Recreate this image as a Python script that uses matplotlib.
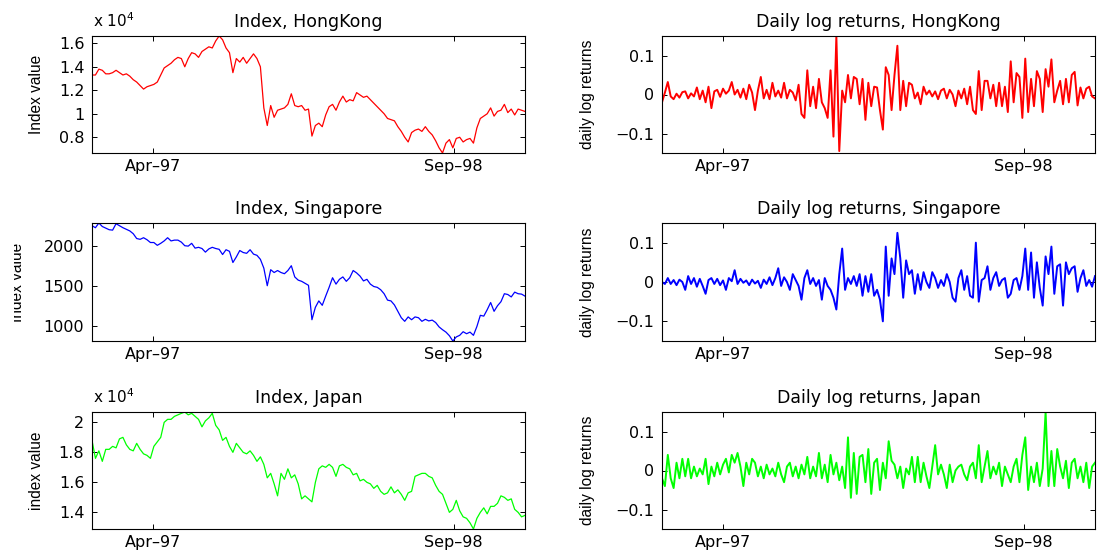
import pandas as pd
import matplotlib
matplotlib.use("Agg")
import matplotlib.pyplot as plt
from matplotlib import font_manager
from matplotlib.patches import Rectangle

# index levels (HongKong and Japan in units of 10^4)
hk_index = [1.33, 1.33, 1.38, 1.37, 1.34, 1.34, 1.35, 1.37, 1.35, 1.33,
            1.34, 1.32, 1.29, 1.27, 1.24, 1.21, 1.23, 1.24, 1.25, 1.27,
            1.33, 1.39, 1.41, 1.43, 1.46, 1.48, 1.47, 1.40, 1.47, 1.52,
            1.51, 1.48, 1.53, 1.55, 1.57, 1.56, 1.62, 1.662, 1.63, 1.56,
            1.52, 1.35, 1.47, 1.44, 1.48, 1.43, 1.47, 1.51, 1.47, 1.40,
            1.05, 0.90, 1.07, 0.97, 1.03, 1.04, 1.05, 1.08, 1.17, 1.07,
            1.06, 1.07, 1.03, 1.04, 0.81, 0.90, 0.92, 0.89, 0.99, 1.06,
            1.08, 1.03, 1.10, 1.15, 1.10, 1.12, 1.11, 1.18, 1.16, 1.14,
            1.15, 1.12, 1.09, 1.06, 1.03, 1.00, 0.96, 0.95, 0.94, 0.89,
            0.85, 0.80, 0.76, 0.84, 0.86, 0.87, 0.85, 0.89, 0.85, 0.82,
            0.77, 0.71, 0.666, 0.75, 0.78, 0.71, 0.79, 0.80, 0.76, 0.78,
            0.79, 0.75, 0.88, 0.96, 0.98, 1.00, 1.05, 0.98, 1.02, 1.03,
            1.08, 1.01, 1.04, 0.99, 1.04, 1.03, 1.02]

sg_index = [2250, 2225, 2284, 2240, 2220, 2200, 2195, 2275, 2250, 2225,
            2205, 2185, 2150, 2090, 2080, 2100, 2075, 2040, 2040, 2005,
            2030, 2060, 2100, 2060, 2070, 2070, 2045, 2000, 1995, 2030,
            1970, 1980, 1965, 1920, 1960, 1980, 1965, 1955, 1890, 1950,
            1930, 1790, 1860, 1940, 1915, 1905, 1950, 1895, 1880, 1830,
            1720, 1500, 1700, 1665, 1690, 1665, 1650, 1690, 1750, 1610,
            1570, 1555, 1530, 1505, 1075, 1230, 1310, 1255, 1370, 1480,
            1600, 1520, 1580, 1610, 1555, 1600, 1690, 1660, 1620, 1560,
            1580, 1520, 1490, 1480, 1450, 1400, 1320, 1310, 1260, 1180,
            1100, 1055, 1110, 1075, 1110, 1100, 1055, 1080, 1060, 1070,
            1040, 985, 950, 920, 875, 809, 860, 880, 925, 900,
            920, 880, 990, 1130, 1120, 1200, 1290, 1180, 1250, 1300,
            1400, 1390, 1360, 1420, 1400, 1395, 1370]

jp_index = [1.88, 1.76, 1.81, 1.74, 1.82, 1.82, 1.84, 1.83, 1.89, 1.90,
            1.85, 1.82, 1.81, 1.86, 1.82, 1.79, 1.78, 1.76, 1.84, 1.87,
            1.90, 2.00, 2.02, 2.02, 2.04, 2.05, 2.06, 2.069, 2.05, 2.06,
            2.04, 2.02, 1.97, 2.01, 2.03, 2.06, 1.98, 1.95, 1.88, 1.90,
            1.84, 1.80, 1.86, 1.83, 1.80, 1.79, 1.81, 1.78, 1.74, 1.77,
            1.72, 1.63, 1.66, 1.59, 1.51, 1.66, 1.62, 1.69, 1.63, 1.65,
            1.59, 1.49, 1.51, 1.49, 1.47, 1.60, 1.69, 1.71, 1.70, 1.72,
            1.70, 1.64, 1.71, 1.72, 1.70, 1.69, 1.65, 1.66, 1.61, 1.62,
            1.60, 1.59, 1.56, 1.58, 1.54, 1.52, 1.53, 1.57, 1.53, 1.55,
            1.52, 1.48, 1.53, 1.54, 1.64, 1.65, 1.66, 1.66, 1.64, 1.63,
            1.58, 1.54, 1.52, 1.46, 1.40, 1.42, 1.48, 1.41, 1.37, 1.36,
            1.33, 1.289, 1.36, 1.40, 1.43, 1.39, 1.44, 1.44, 1.46, 1.51,
            1.50, 1.48, 1.49, 1.42, 1.40, 1.37, 1.38]

# daily log returns
hk_ret = [-0.02, 0.005, 0.032, -0.005, -0.012, 0.002, -0.008, 0.006, 0.008, -0.01,
          0.003, -0.005, 0.018, -0.012, 0.01, -0.02, 0.02, -0.035, 0.008, 0.012,
          -0.006, 0.015, 0.002, 0.01, 0.032, 0.0, 0.012, -0.008, 0.015, -0.012,
          0.025, 0.005, -0.04, 0.01, 0.045, -0.01, 0.012, -0.012, 0.03, -0.005,
          0.01, -0.008, 0.03, -0.01, 0.012, 0.005, -0.015, 0.025, -0.05, -0.06,
          0.062, -0.03, 0.02, -0.035, 0.04, -0.02, -0.035, -0.06, 0.062, -0.108,
          0.15, -0.145, 0.01, -0.02, 0.05, -0.01, 0.045, 0.04, -0.025, 0.04,
          -0.065, 0.03, -0.03, 0.02, 0.018, -0.04, -0.09, 0.07, 0.05, -0.04,
          0.05, 0.125, -0.04, 0.035, -0.03, 0.03, 0.025, -0.01, 0.005, -0.025,
          0.02, 0.0, 0.01, -0.005, 0.008, -0.012, 0.01, 0.015, -0.01, 0.012,
          0.0, -0.03, 0.01, -0.01, 0.015, -0.025, 0.02, -0.04, -0.05, 0.06,
          -0.04, 0.035, 0.035, -0.01, 0.025, -0.03, 0.03, -0.03, 0.02, -0.045,
          0.085, -0.02, 0.055, 0.045, -0.06, 0.092, -0.045, 0.04, -0.03, 0.06,
          0.04, -0.045, 0.065, 0.02, 0.09, -0.02, 0.01, 0.035, -0.025, 0.04,
          -0.02, 0.05, 0.058, -0.028, 0.018, -0.01, 0.015, 0.02, -0.005, -0.01]

sg_ret = [0.0, -0.005, 0.01, -0.005, 0.005, -0.008, 0.006, 0.0, -0.02, 0.015,
          -0.005, 0.01, -0.012, 0.008, -0.01, -0.03, 0.005, 0.01, -0.005, 0.008,
          -0.008, 0.004, -0.02, 0.01, 0.002, 0.03, -0.005, 0.008, -0.002, 0.004,
          -0.008, 0.006, -0.004, 0.003, -0.015, 0.006, -0.005, 0.012, -0.008, 0.01,
          0.035, -0.01, 0.012, 0.0, -0.02, 0.02, 0.005, -0.01, -0.045, 0.01,
          0.03, -0.005, 0.01, -0.01, 0.005, -0.045, 0.01, -0.01, -0.02, -0.04,
          -0.07, 0.02, 0.085, -0.02, 0.01, -0.005, 0.015, -0.01, 0.02, -0.035,
          0.015, -0.025, 0.02, -0.035, -0.02, -0.045, -0.1, 0.09, -0.035, 0.06,
          0.02, 0.125, 0.06, -0.04, 0.055, 0.02, 0.03, -0.03, 0.02, -0.02,
          0.025, 0.0, -0.015, 0.025, 0.01, -0.015, 0.005, -0.01, 0.02, 0.0,
          -0.04, -0.05, 0.01, 0.03, -0.02, 0.015, -0.035, -0.04, 0.1, -0.05,
          0.005, 0.01, 0.04, -0.02, 0.01, 0.025, -0.01, 0.005, 0.01, -0.04,
          -0.03, 0.005, 0.01, -0.02, 0.015, 0.085, -0.02, 0.075, -0.04, 0.05,
          -0.015, -0.06, 0.065, 0.02, 0.09, -0.03, 0.04, 0.045, -0.06, 0.05,
          0.02, 0.035, 0.04, -0.025, 0.01, 0.03, -0.01, 0.005, -0.012, 0.015]

jp_ret = [-0.02, -0.04, 0.04, -0.02, -0.045, 0.02, -0.02, 0.03, -0.015, 0.03,
          -0.02, 0.01, -0.015, 0.005, -0.01, 0.03, -0.035, 0.01, -0.015, 0.02,
          -0.01, 0.015, 0.03, -0.005, 0.04, 0.02, 0.045, 0.01, -0.04, 0.02,
          -0.01, 0.03, 0.02, -0.015, 0.01, -0.02, 0.015, -0.01, 0.005, -0.015,
          0.02, -0.01, -0.03, 0.01, 0.02, -0.015, 0.01, -0.02, 0.015, -0.01,
          0.035, -0.02, 0.01, -0.015, 0.045, -0.02, 0.015, -0.03, 0.04, -0.01,
          0.02, -0.025, 0.01, -0.045, 0.085, -0.07, 0.045, -0.06, 0.035, 0.04,
          -0.03, 0.055, -0.06, 0.02, 0.03, -0.05, 0.02, -0.02, 0.075, 0.025,
          0.015, -0.02, 0.01, -0.045, 0.005, -0.01, 0.035, -0.03, 0.035, -0.03,
          0.02, -0.015, -0.045, 0.01, 0.065, -0.01, 0.015, -0.01, -0.045, 0.015,
          -0.03, 0.0, 0.01, 0.015, -0.01, -0.025, 0.01, 0.02, -0.02, 0.065,
          -0.03, 0.01, 0.05, -0.02, 0.01, -0.01, 0.02, -0.04, 0.01, -0.01,
          -0.03, 0.01, 0.03, -0.03, 0.04, 0.085, -0.05, 0.01, -0.03, 0.02,
          -0.04, 0.005, 0.15, -0.04, 0.05, -0.04, 0.055, 0.01, -0.02, 0.025,
          -0.045, 0.02, 0.03, -0.02, 0.01, -0.03, 0.02, -0.045, 0.01, 0.02]

first_day, last_day = "1996-12-16", "1999-01-02"
tick_dates = ["1997-04-01", "1998-09-01"]
tick_labels = ["Apr\u201397", "Sep\u201398"]

names = {f.name for f in font_manager.fontManager.ttflist}
narrow = "Liberation Sans Narrow" if "Liberation Sans Narrow" in names else "Liberation Sans"
narrow_size = 12.8 if narrow == "Liberation Sans Narrow" else 11.2
plt.rcParams["font.family"] = ["DejaVu Sans"]

fig = plt.figure(figsize=(10.97, 5.51), dpi=100)
W, H = 1097, 551


def make_axes(left_px, top_px, bottom_px):
    return fig.add_axes([left_px / W, 1 - bottom_px / H, 433 / W, (bottom_px - top_px) / H])


def setup(ax, values, color, lw, title, ylabel, label_x, yticks, yticklabels, ylim=None):
    x = pd.date_range(first_day, last_day, periods=len(values))
    ax.plot(x, values, color=color, lw=lw)
    ax.set_xlim(x[0], x[-1])
    if ylim is None:
        ylim = (min(values), max(values))
    ax.set_ylim(*ylim)
    ax.set_xticks(pd.to_datetime(tick_dates))
    ax.set_xticklabels(tick_labels)
    ax.set_yticks(yticks)
    ax.set_yticklabels(yticklabels)
    ax.tick_params(direction="in", length=3.3, width=0.7, top=True, right=True,
                   labelsize=11.5, colors="black")
    ax.tick_params(axis="y", pad=5.5)
    ax.tick_params(axis="x", pad=4.0)
    for s in ax.spines.values():
        s.set_linewidth(0.8)
    ax.set_title(title, fontsize=12.5, pad=6.5)
    ax.set_ylabel(ylabel, family=narrow, fontsize=narrow_size)
    ax.yaxis.set_label_coords(label_x, 0.5)


rows = [(36, 153), (223, 341), (412, 529)]
minus = "\u2212"

ax = make_axes(92, *rows[0])
setup(ax, hk_index, "red", 0.9, "Index, HongKong", "Index value", -0.111,
      [0.8, 1.0, 1.2, 1.4, 1.6], ["0.8", "1", "1.2", "1.4", "1.6"])
ax.text(0.003, 1.077, "x 10$^4$", transform=ax.transAxes, fontsize=11, va="baseline")

ax = make_axes(662, *rows[0])
setup(ax, hk_ret, "red", 1.4, "Daily log returns, HongKong", "daily log returns", -0.155,
      [-0.1, 0, 0.1], [minus + "0.1", "0", "0.1"], ylim=(-0.15, 0.15))

ax = make_axes(92, *rows[1])
setup(ax, sg_index, "blue", 0.9, "Index, Singapore", "Index value", -0.155,
      [1000, 1500, 2000], ["1000", "1500", "2000"])

ax = make_axes(662, *rows[1])
setup(ax, sg_ret, "blue", 1.4, "Daily log returns, Singapore", "daily log returns", -0.155,
      [-0.1, 0, 0.1], [minus + "0.1", "0", "0.1"], ylim=(-0.15, 0.15))

ax = make_axes(92, *rows[2])
setup(ax, jp_index, "lime", 0.9, "Index, Japan", "index value", -0.111,
      [1.4, 1.6, 1.8, 2.0], ["1.4", "1.6", "1.8", "2"])
ax.text(0.003, 1.077, "x 10$^4$", transform=ax.transAxes, fontsize=11, va="baseline")

ax = make_axes(662, *rows[2])
setup(ax, jp_ret, "lime", 1.4, "Daily log returns, Japan", "daily log returns", -0.155,
      [-0.1, 0, 0.1], [minus + "0.1", "0", "0.1"], ylim=(-0.15, 0.15))

# the Singapore label is cut at the left border in the original export
fig.patches.append(Rectangle((0, 1 - 380 / H), 14 / W, 200 / H, transform=fig.transFigure,
                             facecolor="white", edgecolor="none", zorder=5))

fig.savefig("out.png", dpi=100, facecolor="white")
